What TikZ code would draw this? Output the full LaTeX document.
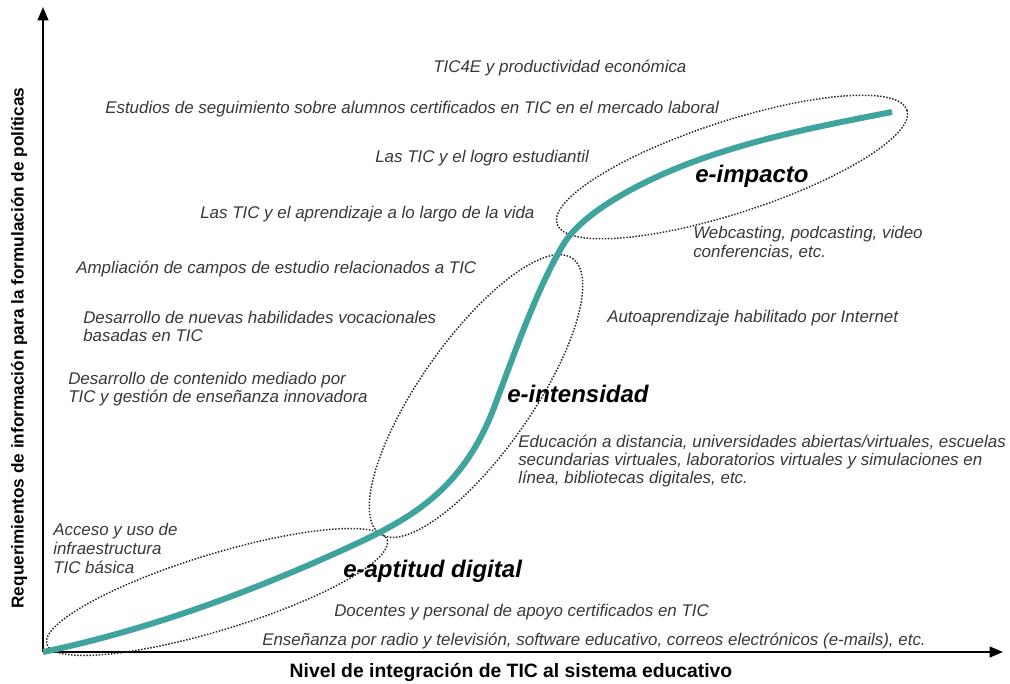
\documentclass[tikz,border=0pt]{standalone}
\usepackage{fontspec}
\setmainfont{Liberation Sans}
\usetikzlibrary{arrows.meta}
\definecolor{tealc}{HTML}{3FA49E}
\definecolor{txt}{HTML}{383838}
\begin{document}
\begin{tikzpicture}[x=0.75pt,y=-0.75pt,
  lbl/.style={font=\fontsize{12.7}{13.5}\selectfont\itshape, text=txt, inner sep=0, anchor=base west},
  stage/.style={font=\fontsize{18}{20}\selectfont\bfseries\itshape, inner sep=0, anchor=base west},
  axlbl/.style={font=\fontsize{14.5}{16}\selectfont\bfseries, inner sep=0},
  zone/.style={line width=1.1pt, dash pattern=on 1.1pt off 1.2pt, draw=black!85},
  axisline/.style={line width=1.5pt, -{Triangle[length=10pt,width=8pt]}},
  scurve/.style={line width=4.5pt, draw=tealc}]
\useasboundingbox (0,0) rectangle (1010,683);

% axes
\coordinate (O) at (43,652);
\coordinate (ytip) at (43,7);
\coordinate (xtip) at (1003,652);
\draw[axisline] (O) -- (ytip);
\draw[axisline] (O) -- (xtip);
\node[axlbl, font=\fontsize{12.9}{14}\selectfont\bfseries, rotate=90] (ylab) at (19,348) {Requerimientos de información para la formulación de políticas};
\node[axlbl, anchor=base] (xlab) at (511,677) {Nivel de integración de TIC al sistema educativo};

% zones
\coordinate (c1) at (217,592);
\coordinate (c2) at (476,396);
\coordinate (c3) at (732,167);
\draw[zone, rotate around={17:(c1)}] (c1) ellipse [x radius=178, y radius=38];
\draw[zone, rotate around={55:(c2)}] (c2) ellipse [x radius=168, y radius=56];
\draw[zone, rotate around={18:(c3)}] (c3) ellipse [x radius=184, y radius=46];

% curve
\coordinate (P1) at (360,542);
\coordinate (P2) at (495,405);
\coordinate (P3) at (563,245);
\coordinate (P4) at (690,163);
\coordinate (P5) at (892,112);
\draw[scurve] (O) .. controls (148,630) and (255,591) .. (P1)
  .. controls (415,516) and (465,486) .. (P2)
  .. controls (517,346) and (538,287) .. (P3)
  .. controls (583,211) and (645,180) .. (P4)
  .. controls (757,138) and (825,125) .. (P5);

% stage labels
\node[stage] (s1) at (343,577) {e-aptitud digital};
\node[stage] (s2) at (507,402) {e-intensidad};
\node[stage] (s3) at (695,182) {e-impacto};

% left column labels
\node[lbl] (t1) at (433,72) {TIC4E y productividad económica};
\node[lbl] (t2) at (105,113) {Estudios de seguimiento sobre alumnos certificados en TIC en el mercado laboral};
\node[lbl] (t3) at (375,162) {Las TIC y el logro estudiantil};
\node[lbl] (t4) at (200,218) {Las TIC y el aprendizaje a lo largo de la vida};
\node[lbl] (t5) at (76,273) {Ampliación de campos de estudio relacionados a TIC};
\node[lbl] (t6a) at (83,323) {Desarrollo de nuevas habilidades vocacionales};
\node[lbl] (t6b) at (83,341) {basadas en TIC};
\node[lbl] (t7a) at (68,384) {Desarrollo de contenido mediado por};
\node[lbl] (t7b) at (68,402) {TIC y gestión de enseñanza innovadora};
\node[lbl] (t8a) at (53,535) {Acceso y uso de};
\node[lbl] (t8b) at (53,554) {infraestructura};
\node[lbl] (t8c) at (53,573) {TIC básica};

% bottom labels
\node[lbl] (b1) at (334,616) {Docentes y personal de apoyo certificados en TIC};
\node[lbl] (b2) at (262,645) {Enseñanza por radio y televisión, software educativo, correos electrónicos (e-mails), etc.};

% right labels
\node[lbl] (r1a) at (518,447) {Educación a distancia, universidades abiertas/virtuales, escuelas};
\node[lbl] (r1b) at (518,465) {secundarias virtuales, laboratorios virtuales y simulaciones en};
\node[lbl] (r1c) at (518,483) {línea, bibliotecas digitales, etc.};
\node[lbl] (r2) at (607,322) {Autoaprendizaje habilitado por Internet};
\node[lbl] (r3a) at (693,238) {Webcasting, podcasting, video};
\node[lbl] (r3b) at (693,257) {conferencias, etc.};
\end{tikzpicture}
\end{document}
